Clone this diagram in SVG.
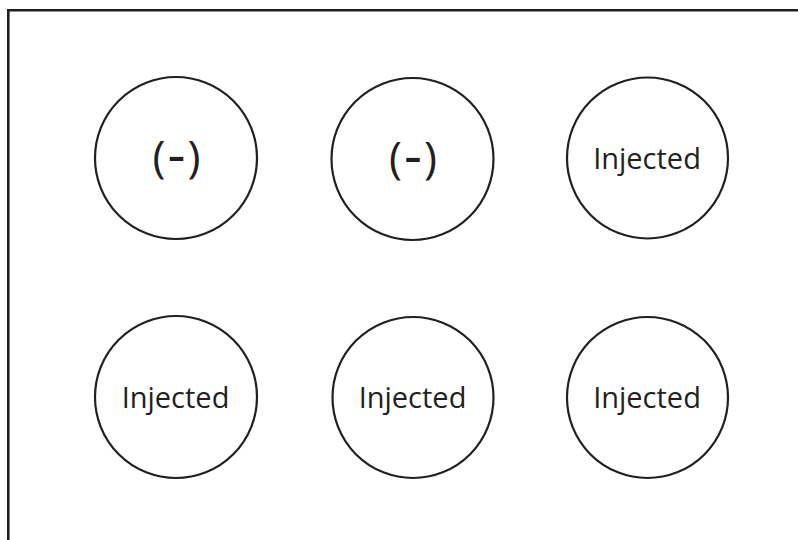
<svg xmlns="http://www.w3.org/2000/svg" width="798" height="540" viewBox="0 0 798 540">
  <style>
    .frame { fill: none; stroke: #231f20; stroke-width: 2.6; }
    .well { fill: #ffffff; stroke: #231f20; stroke-width: 2.2; }
    .lbl { font-family: "Open Sans", "Noto Sans", sans-serif; fill: #231f20; text-anchor: middle; }
    .inj { font-size: 29px; }
    .neg { font-size: 44px; letter-spacing: 2px; }
    .dash { font-size: 56px; }
  </style>
  <rect width="798" height="540" fill="#ffffff"/>
  <!-- open frame: top and left edges only -->
  <path class="frame" d="M8.3,540 V10.3 H798"/>

  <g id="well-a1">
    <circle class="well" cx="176" cy="158" r="81"/>
    <text class="lbl neg" x="177.5" y="172">(<tspan class="dash" dy="2">-</tspan><tspan dy="-2">)</tspan></text>
  </g>
  <g id="well-a2">
    <circle class="well" cx="412.5" cy="159" r="81"/>
    <text class="lbl neg" x="414" y="173">(<tspan class="dash" dy="2">-</tspan><tspan dy="-2">)</tspan></text>
  </g>
  <g id="well-a3">
    <circle class="well" cx="647.5" cy="158" r="80.5"/>
    <text class="lbl inj" x="647" y="168.5">Injected</text>
  </g>
  <g id="well-b1">
    <circle class="well" cx="176" cy="397" r="81"/>
    <text class="lbl inj" x="175.5" y="407.5">Injected</text>
  </g>
  <g id="well-b2">
    <circle class="well" cx="413" cy="397.5" r="80.5"/>
    <text class="lbl inj" x="412.5" y="408">Injected</text>
  </g>
  <g id="well-b3">
    <circle class="well" cx="647.5" cy="397.5" r="80.5"/>
    <text class="lbl inj" x="647" y="408">Injected</text>
  </g>
</svg>
